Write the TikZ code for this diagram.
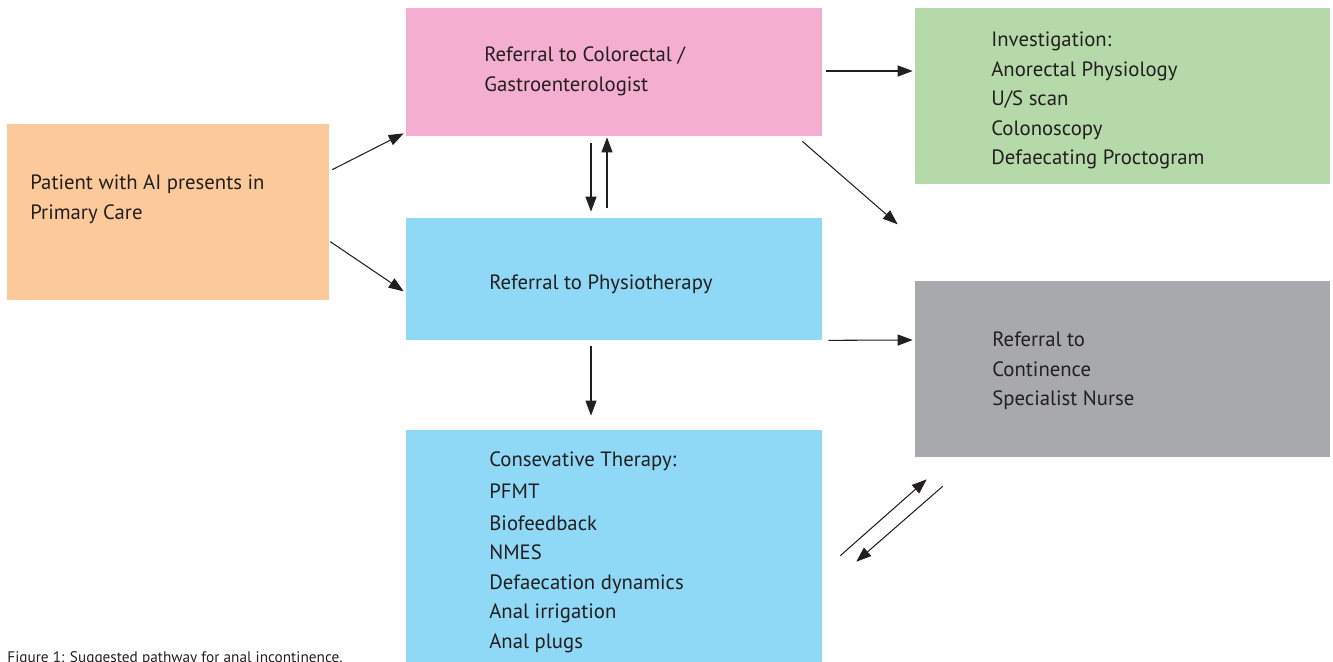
\documentclass[tikz,border=0pt]{standalone}
\usepackage{fontspec}
\setmainfont{PT Sans}
\usetikzlibrary{arrows.meta}

\definecolor{inkgray}{HTML}{231F20}
\definecolor{carepeach}{HTML}{FCC99A}
\definecolor{carepink}{HTML}{F4AED0}
\definecolor{careblue}{HTML}{8FD8F6}
\definecolor{caregreen}{HTML}{B5D9A9}
\definecolor{caregray}{HTML}{A7A9AC}

\tikzset{
  box/.style={inner sep=0pt, draw=none},
  txt/.style={align=left, inner sep=0pt, anchor=west, text=inkgray,
    font=\fontsize{11.8}{16.8}\selectfont},
  arr/.style={-{Triangle[length=0.3cm,width=0.22cm]}, line width=0.6pt, draw=inkgray}
}

\begin{document}
\begin{tikzpicture}[x=0.02cm, y=-0.02cm]
      \useasboundingbox (0,0) rectangle (1333,662);
      % coloured boxes
      \node[box, fill=carepeach, minimum width=6.44cm, minimum height=3.52cm] (patient) at (168,212) {};
      \node[box, fill=carepink, minimum width=8.32cm, minimum height=2.56cm] (colorectal) at (614,72) {};
      \node[box, fill=careblue, minimum width=8.32cm, minimum height=2.44cm] (physio) at (614,279) {};
      \node[box, fill=careblue, minimum width=8.32cm, minimum height=4.64cm] (conservative) at (614,546) {};
      \node[box, fill=caregreen, minimum width=8.30cm, minimum height=3.52cm] (investigation) at (1122.5,96) {};
      \node[box, fill=caregray, minimum width=8.30cm, minimum height=3.52cm] (nurse) at (1122.5,369) {};
      % texts
      \node[txt] (patienttxt) at (30,199) {Patient with AI presents in\\Primary Care};
      \node[txt] (colorectaltxt) at (484,71.5) {Referral to Colorectal /\\Gastroenterologist};
      \node[txt] (physiotxt) at (489,284) {Referral to Physiotherapy};
      \node[txt] (conservativetxt) at (489,552) {Consevative Therapy:\\[1.5pt] PFMT\\[1.5pt] Biofeedback\\ NMES\\ Defaecation dynamics\\ Anal irrigation\\ Anal plugs};
      \node[txt] (investigationtxt) at (991,100.5) {Investigation:\\ Anorectal Physiology\\ U/S scan\\ Colonoscopy\\ Defaecating Proctogram};
      \node[txt] (nursetxt) at (992,371) {Referral to\\ Continence\\ Specialist Nurse};
      \node[anchor=base west, inner sep=0pt, text=inkgray, font=\fontsize{8.7}{11}\selectfont] (caption) at (7,662) {Figure 1: Suggested pathway for anal incontinence.};
      % routine for arrows
      \coordinate (open) at ([shift={(-17,40)}]investigation.south west);
      \draw[arr] ([shift={(3,46)}]patient.north east) -- ([shift={(-2,-3)}]colorectal.south west);
      \draw[arr] ([shift={(1,118)}]patient.north east) -- ([shift={(-2,-49)}]physio.south west);
      \draw[arr] ([shift={(-23,7)}]colorectal.south) -- ([shift={(-23,-6)}]physio.north);
      \draw[arr] ([shift={(-7,-10)}]physio.north) -- ([shift={(-7,1)}]colorectal.south);
      \draw[arr] ([shift={(4,-1)}]colorectal.east) -- ([shift={(-2,-25)}]investigation.west);
      \draw[arr] ([shift={(-20,5)}]colorectal.south east) -- (open);
      \draw[arr] ([shift={(6,0)}]physio.south east) -- ([shift={(-2,-29)}]nurse.west);
      \draw[arr] ([shift={(-23,6)}]physio.south) -- ([shift={(-23,-14)}]conservative.north);
      \draw[arr] ([shift={(18,126)}]conservative.north east) -- ([shift={(12,22)}]nurse.south west);
      \draw[arr] ([shift={(28,29)}]nurse.south west) -- ([shift={(34,132)}]conservative.north east);
    \end{tikzpicture}
\end{document}
